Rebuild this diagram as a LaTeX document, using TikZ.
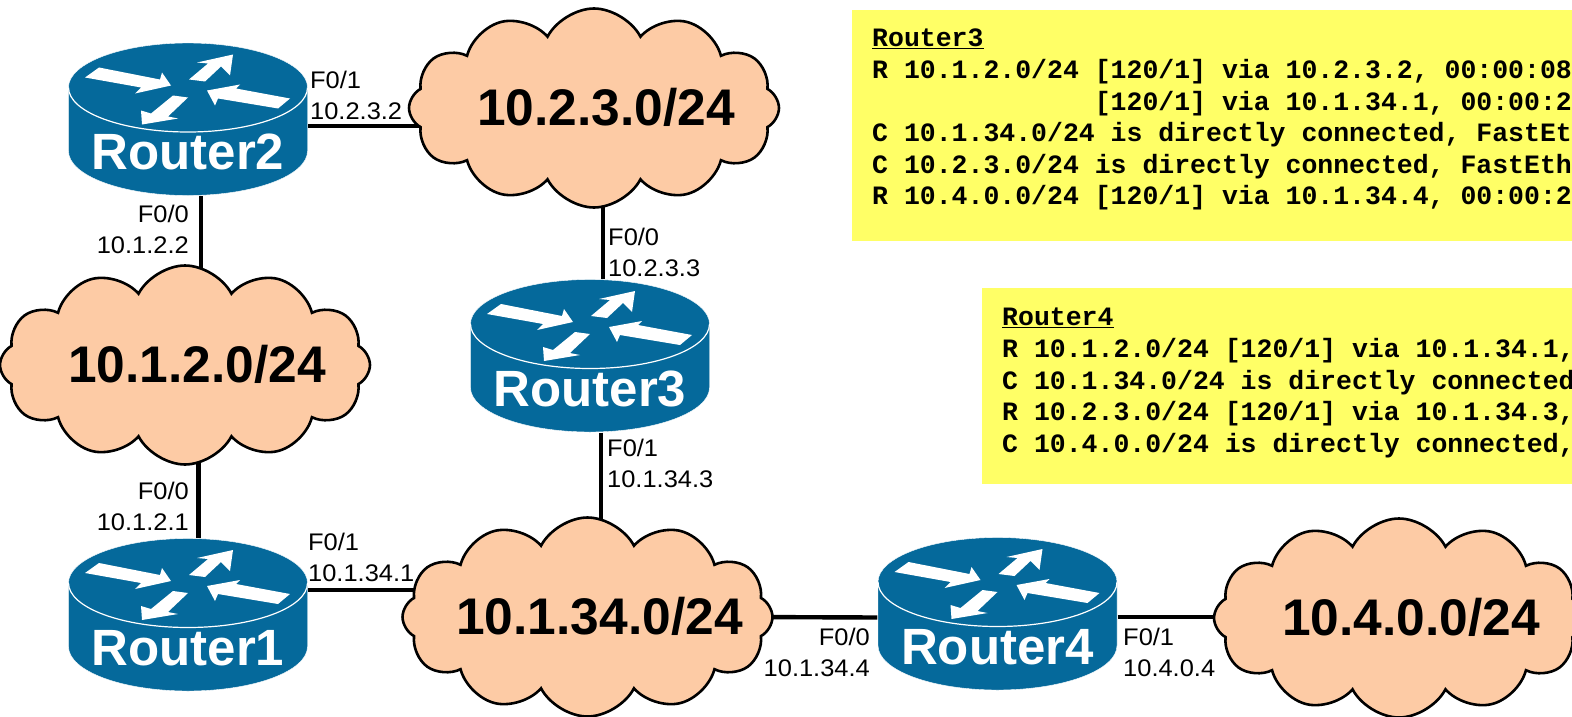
\documentclass[tikz,border=0pt]{standalone}
\usepackage{fontspec}
\setmainfont{Liberation Sans}
\setmonofont{Liberation Mono}
\newfontfamily\portfont[FakeStretch=1.06]{Liberation Sans}
\usetikzlibrary{shapes.symbols,backgrounds}
\definecolor{routerblue}{HTML}{05699B}
\definecolor{cloudpeach}{HTML}{FDCBA5}
\definecolor{noteyellow}{HTML}{FFFF66}
\newcommand{\lanname}[1]{\makebox[0pt]{\hspace*{24pt}\raisebox{2.5pt}{#1}}}
\tikzset{
  routername/.style={rectangle,inner sep=0pt,minimum width=240pt,text width=240pt,align=center,
    text height=126.5pt,text depth=26.5pt,text=white,font=\fontsize{51}{51}\selectfont\bfseries},
  router/.pic={
    \draw[white,thin,fill=routerblue] (-119.5,32) -- (-119.5,-31.5) arc[start angle=180,end angle=360,x radius=119.5,y radius=44.5] -- (119.5,32) arc[start angle=0,end angle=180,x radius=119.5,y radius=44.5] -- cycle;
    \draw[white,line width=1.2pt] (-119.5,32) arc[start angle=180,end angle=360,x radius=119.5,y radius=44.5];
    \fill[white] (-89,52) -- (-28,40) -- (-26,47) -- (-17,34) -- (-53,26) -- (-47,32) -- (-103,42) -- cycle;
    \fill[white] (1,40) -- (20,56) -- (9,57) -- (45,65) -- (42,44) -- (33,53) -- (17,38) -- cycle;
    \fill[white] (102,21) -- (48,31) -- (52,35) -- (19,29) -- (27,14) -- (30,21) -- (90,11) -- cycle;
    \fill[white] (-15,24) -- (0,22) -- (-20,3) -- (-10,1) -- (-46,-5) -- (-47,9) -- (-37,6) -- cycle;
    \node[routername] (-n) at (0,0) {#1};
  },
  lan/.style={cloud,cloud puffs=12,cloud puff arc=125,cloud ignores aspect,draw=black,line width=2.6pt,fill=cloudpeach,
    inner sep=0pt,minimum width=370pt,minimum height=199pt,font=\fontsize{51.5}{51.5}\selectfont\bfseries},
  port/.style={inner sep=0pt,font=\fontsize{24}{31}\selectfont\portfont},
  note/.style={rectangle,fill=noteyellow,inner sep=0pt,anchor=north west},
  notetext/.style={inner sep=0pt,anchor=north west,align=left,font=\fontsize{26.5}{31.6}\selectfont\ttfamily\bfseries},
  link/.style={line width=4.4pt}
}
\begin{document}
\begin{tikzpicture}[x=1pt,y=1pt]
\useasboundingbox (0,0) rectangle (1572,-717);
\clip (0,0) rectangle (1572,-717);
% notes
\node[note,minimum width=720pt,minimum height=231pt] (n3) at (852,-10) {};
\node[notetext] (t3) at (872,-29) {\underline{Router3}\\
R 10.1.2.0/24 [120/1] via 10.2.3.2, 00:00:08\\
\phantom{R 10.1.2.0/24 }[120/1] via 10.1.34.1, 00:00:2\\
C 10.1.34.0/24 is directly connected, FastEt\\
C 10.2.3.0/24 is directly connected, FastEth\\
R 10.4.0.0/24 [120/1] via 10.1.34.4, 00:00:2};
\node[note,minimum width=590pt,minimum height=196pt] (n4) at (982,-288) {};
\node[notetext] (t4) at (1002,-308) {\underline{Router4}\\
R 10.1.2.0/24 [120/1] via 10.1.34.1,\\
C 10.1.34.0/24 is directly connected\\
R 10.2.3.0/24 [120/1] via 10.1.34.3,\\
C 10.4.0.0/24 is directly connected,};
% networks
\node[lan] (c23) at (594,-108) {\lanname{10.2.3.0/24}};
\node[lan] (c12) at (185,-365) {\lanname{10.1.2.0/24}};
\node[lan] (c134) at (587.5,-617) {\lanname{10.1.34.0/24}};
\node[lan] (c40) at (1399,-618) {\lanname{10.4.0.0/24}};
% routers
\pic (r2) at (188,-119.5) {router=Router2};
\pic (r3) at (590,-356) {router=Router3};
\pic (r1) at (188,-615) {router=Router1};
\pic (r4) at (997.5,-614) {router=Router4};
% links
\begin{scope}[on background layer]
\draw[link] ([yshift=-6.5]r2-n.east) -- ([xshift=30,yshift=-18]c23.west);
\draw[link] ([xshift=13]r2-n.south) -- ([xshift=16,yshift=-20]c12.north);
\draw[link] ([xshift=9,yshift=20]c23.south) -- ([xshift=13]r3-n.north);
\draw[link] ([xshift=11]r3-n.south) -- ([xshift=13.5,yshift=-20]c134.north);
\draw[link] ([xshift=13.5,yshift=20]c12.south) -- ([xshift=10.5]r1-n.north);
\draw[link] ([yshift=25]r1-n.east) -- ([xshift=30,yshift=27]c134.west);
\draw[link] ([xshift=-30]c134.east) -- ([yshift=-3.5]r4-n.west);
\draw[link] ([yshift=-3]r4-n.east) -- ([xshift=30,yshift=1]c40.west);
\end{scope}
% interfaces
\node[port,anchor=west,align=left] (p2b) at (310,-95.5) {F0/1\\10.2.3.2};
\node[port,anchor=east,align=right] (p2a) at (189,-229) {F0/0\\10.1.2.2};
\node[port,anchor=west,align=left] (p3a) at (608,-252) {F0/0\\10.2.3.3};
\node[port,anchor=west,align=left] (p3b) at (607,-463) {F0/1\\10.1.34.3};
\node[port,anchor=east,align=right] (p1a) at (189,-506.5) {F0/0\\10.1.2.1};
\node[port,anchor=west,align=left] (p1b) at (308,-557) {F0/1\\10.1.34.1};
\node[port,anchor=east,align=right] (p4a) at (870,-652.5) {F0/0\\10.1.34.4};
\node[port,anchor=west,align=left] (p4b) at (1123,-652.5) {F0/1\\10.4.0.4};
\end{tikzpicture}
\end{document}
